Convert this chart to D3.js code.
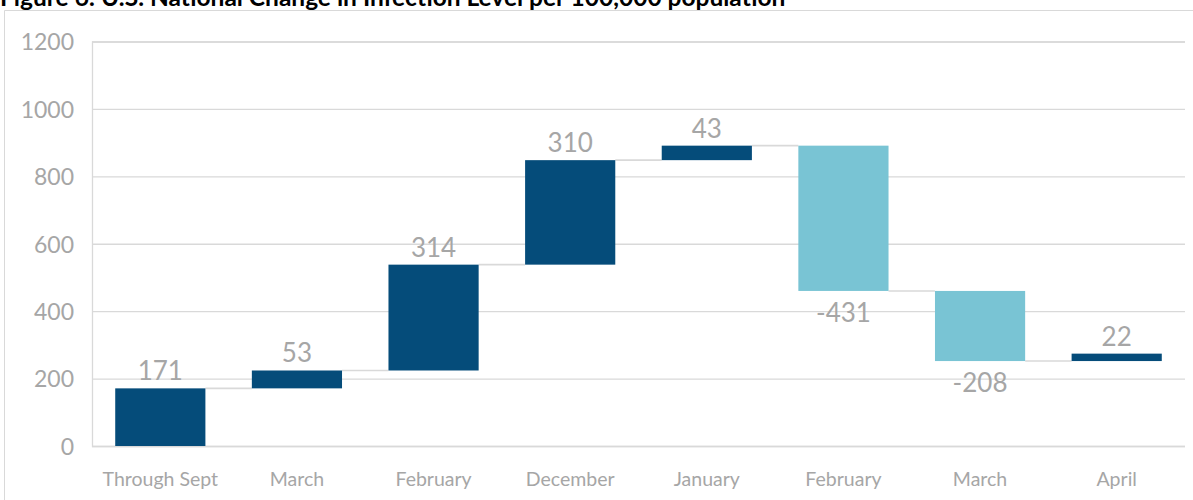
<!DOCTYPE html>
<html>
<head>
<meta charset="utf-8">
<script src="https://cdn.jsdelivr.net/npm/d3@7/dist/d3.min.js"></script>
<style>
  html, body { margin: 0; padding: 0; background: #fff; }
  svg { display: block; }
</style>
</head>
<body>
<svg id="chart" width="1193" height="500"></svg>
<script>
// Month-by-month change in infection level (per 100,000 population)
const categories = ["Through Sept", "March", "February", "December", "January", "February", "March", "April"];
const changes = [171, 53, 314, 310, 43, -431, -208, 22];
const yTicks = [0, 200, 400, 600, 800, 1000, 1200];
const title = "Figure 6: U.S. National Change in Infection Level per 100,000 population";

const svg = d3.select("#chart");
const W = 1193, H = 500;
const margin = { left: 92, right: 8, top: 41.5, bottom: 54 };

const grey = "#a6a6a6";
const gridColor = "#d9d9d9";
const upColor = "#054c7a";
const downColor = "#79c4d4";

// running totals: each step spans [start, end]
let total = 0;
const steps = changes.map((v, i) => {
  const start = total;
  total += v;
  return { i, key: i, label: categories[i], value: v, start, end: total };
});

const x = d3.scaleBand()
  .domain(steps.map(d => d.key))
  .range([margin.left, W - margin.right])
  .paddingInner(0.34)
  .paddingOuter(0.17);

const y = d3.scaleLinear()
  .domain([0, 1200])
  .range([H - margin.bottom, margin.top]);

// outer frame
svg.append("path")
  .attr("d", `M4.5,${H} V10.5 H${W}`)
  .attr("fill", "none")
  .attr("stroke", "#d9d9d9")
  .attr("stroke-width", 1);

// title
svg.append("text")
  .attr("x", 0)
  .attr("y", 6)
  .attr("font-family", "Lato, 'Open Sans', sans-serif")
  .attr("font-weight", "bold")
  .attr("font-size", 24.5)
  .attr("fill", "#000")
  .text(title);

// gridlines
const gridAxis = d3.axisLeft(y)
  .tickValues(yTicks)
  .tickSize(-(W - margin.right - margin.left))
  .tickFormat("");
const grid = svg.append("g")
  .attr("transform", `translate(${margin.left},0)`)
  .call(gridAxis);
grid.select(".domain").attr("stroke", gridColor).attr("stroke-width", 1.3);
grid.selectAll(".tick line").attr("stroke", gridColor).attr("stroke-width", 1.3);

// y tick labels
const yAxis = d3.axisLeft(y).tickValues(yTicks).tickSize(0).tickPadding(18).tickFormat(d3.format("d"));
const yg = svg.append("g")
  .attr("transform", `translate(${margin.left},0)`)
  .call(yAxis);
yg.select(".domain").remove();
yg.selectAll("text")
  .attr("font-family", "Lato, sans-serif")
  .attr("font-size", 23)
  .attr("fill", grey)
  .attr("dy", "0.36em");

// x category labels
const xAxis = d3.axisBottom(x).tickSize(0).tickPadding(26).tickFormat(k => categories[k]);
const xg = svg.append("g")
  .attr("transform", `translate(0,${H - margin.bottom})`)
  .call(xAxis);
xg.select(".domain").remove();
xg.selectAll("text")
  .attr("font-family", "Lato, sans-serif")
  .attr("font-size", 19.5)
  .attr("fill", grey);

// connectors between consecutive bars
svg.append("g")
  .selectAll("line")
  .data(steps.slice(0, -1))
  .join("line")
  .attr("x1", d => x(d.key) + x.bandwidth())
  .attr("x2", d => x(d.key + 1))
  .attr("y1", d => y(d.end))
  .attr("y2", d => y(d.end))
  .attr("stroke", gridColor)
  .attr("stroke-width", 1.6);

// waterfall bars
svg.append("g")
  .selectAll("rect")
  .data(steps)
  .join("rect")
  .attr("x", d => x(d.key))
  .attr("width", x.bandwidth())
  .attr("y", d => y(Math.max(d.start, d.end)))
  .attr("height", d => Math.abs(y(d.start) - y(d.end)))
  .attr("fill", d => d.value >= 0 ? upColor : downColor);

// value labels: above rising bars, below falling bars
svg.append("g")
  .selectAll("text")
  .data(steps)
  .join("text")
  .attr("x", d => x(d.key) + x.bandwidth() / 2)
  .attr("y", d => d.value >= 0 ? y(d.end) - 8 : y(d.end) + 31)
  .attr("text-anchor", "middle")
  .attr("font-family", "Lato, sans-serif")
  .attr("font-size", 26)
  .attr("fill", grey)
  .text(d => d.value);
</script>
</body>
</html>
